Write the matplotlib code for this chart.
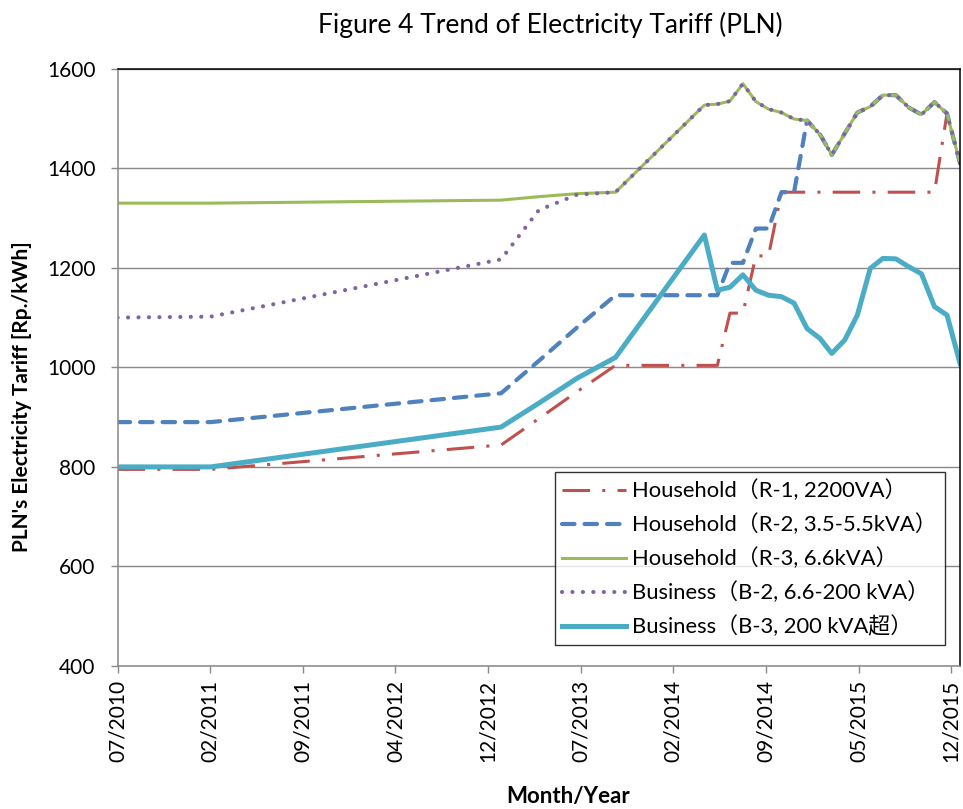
import numpy as np
import matplotlib
matplotlib.use("Agg")
import matplotlib.pyplot as plt

plt.rcParams['font.family'] = ['Lato', 'Noto Sans CJK JP', 'DejaVu Sans']

# data (first-of-month points, Rp./kWh)
dates = ['2010-07-01', '2011-02-08', '2013-01-01', '2013-04-01', '2013-07-01', '2013-10-01',
         '2014-05-01', '2014-06-01', '2014-07-01', '2014-08-01', '2014-09-01', '2014-10-01',
         '2014-11-01', '2014-12-01', '2015-01-01', '2015-02-01', '2015-03-01', '2015-04-01',
         '2015-05-01', '2015-06-01', '2015-07-01', '2015-08-01', '2015-09-01', '2015-10-01',
         '2015-11-01', '2015-12-01', '2016-01-01']

r1 = [795, 795, 844, 897, 951, 1004,
      1004, 1004, 1109, 1109, 1224, 1224, 1352, 1352,
      1352, 1352, 1352, 1352, 1352, 1352, 1352, 1352, 1352, 1352, 1352, 1510, 1410]
r2 = [890, 890, 948, 1013, 1080, 1145,
      1145, 1145, 1210, 1210, 1279, 1279, 1352, 1352,
      1496, 1468, 1427, 1470, 1512, 1524, 1547, 1547, 1522, 1508, 1533, 1510, 1410]
r3 = [1330, 1330, 1336, 1343, 1349, 1352,
      1527, 1529, 1535, 1570, 1534, 1519, 1512, 1499,
      1496, 1468, 1427, 1470, 1512, 1524, 1547, 1547, 1522, 1508, 1533, 1510, 1410]
b2 = [1100, 1102, 1217, 1316, 1347, 1352,
      1527, 1529, 1535, 1570, 1534, 1519, 1512, 1499,
      1496, 1468, 1427, 1470, 1512, 1524, 1547, 1547, 1522, 1508, 1533, 1510, 1410]
b3 = [800, 800, 880, 928, 978, 1020,
      1266, 1155, 1161, 1186, 1155, 1145, 1142, 1129,
      1078, 1058, 1028, 1055, 1105, 1199, 1219, 1218, 1202, 1188, 1122, 1105, 1008]

labels = ['Household（R-1, 2200VA）', 'Household（R-2, 3.5-5.5kVA）', 'Household（R-3, 6.6kVA）',
          'Business（B-2, 6.6-200 kVA）', 'Business（B-3, 200 kVA超）']
tick_labels = ['07/2010', '02/2011', '09/2011', '04/2012', '12/2012',
               '07/2013', '02/2014', '09/2014', '05/2015', '12/2015']

x = np.array(dates, dtype='datetime64[D]')
start = np.datetime64('2010-07-01')
end = np.datetime64('2016-01-01')

fig = plt.figure(figsize=(9.63, 8.09), dpi=100)
ax = fig.add_axes([0.1221, 0.1768, 0.8748, 0.7382])

ax.plot(x, r1, color='#C0504D', lw=2.2, dashes=(9, 4, 1, 4), label=labels[0])
ax.plot(x, r2, color='#4F81BD', lw=3.0, dashes=(3.0, 2.4), dash_capstyle='round', label=labels[1])
ax.plot(x, r3, color='#9BBB59', lw=2.2, label=labels[2])
ax.plot(x, b2, color='#8064A2', lw=3.0, dashes=(0.01, 2.5), dash_capstyle='round', label=labels[3])
ax.plot(x, b3, color='#4BACC6', lw=3.6, label=labels[4])

ax.set_xlim(start, end)
ax.set_ylim(400, 1600)
ax.set_yticks(np.arange(400, 1601, 200))
ticks = start + np.arange(len(tick_labels)) * np.timedelta64(221, 'D')
ax.set_xticks(ticks)
ax.set_xticklabels(tick_labels, rotation=90)

ax.grid(axis='y', color='#898989', lw=1.0)
ax.set_axisbelow(True)
for s in ['left', 'bottom']:
    ax.spines[s].set_color('#898989')
    ax.spines[s].set_linewidth(1.1)
for s in ['top', 'right']:
    ax.spines[s].set_color('black')
    ax.spines[s].set_linewidth(1.1)
ax.tick_params(axis='both', direction='out', length=5, width=1.0, color='#898989',
               labelsize=15)
ax.tick_params(axis='y', pad=11)
ax.tick_params(axis='x', pad=5)

fig.text(550 / 963, 1 - 25 / 809, 'Figure 4 Trend of Electricity Tariff (PLN)',
         ha='center', va='center', fontsize=19)
fig.text(22 / 963, 1 - 397 / 809, "PLN's Electricity Tariff [Rp./kWh]",
         ha='center', va='center', rotation=90, fontsize=15, fontweight='bold')
fig.text(568 / 963, 1 - 796 / 809, 'Month/Year', ha='center', va='center',
         fontsize=16, fontweight='bold')

leg = ax.legend(loc='lower right', bbox_to_anchor=(0.982, 0.035), borderaxespad=0,
                fontsize=15.8, frameon=True, fancybox=False, edgecolor='black',
                handlelength=2.9, labelspacing=0.56, borderpad=0.35, handletextpad=0.3)
leg.get_frame().set_linewidth(1.0)

fig.savefig('out.png', dpi=100)
